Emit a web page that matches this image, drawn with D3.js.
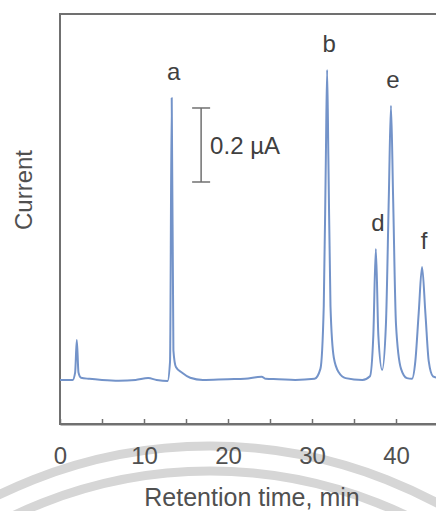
<!DOCTYPE html>
<html>
<head>
<meta charset="utf-8">
<script src="https://cdn.jsdelivr.net/npm/d3@7"></script>
<style>
  html, body { margin: 0; padding: 0; background: #fff; }
  svg { display: block; font-family: "Liberation Sans", Arial, Helvetica, sans-serif; }
</style>
</head>
<body>
<svg id="chart" width="436" height="511"></svg>
<script>
// ---- data (retention time in min, current in µA above baseline) ----
const traceTime = [0, 1.5, 1.8, 2.0, 2.2, 2.5, 3.5, 5, 7, 9, 10.5, 11.5, 12.8, 13.1, 13.3, 13.5, 13.8, 14.5, 15.5, 17,
  20, 22, 24, 24.5, 26, 28, 30.3, 31.0, 31.4, 31.65, 31.8, 31.95, 32.2, 32.6, 33.2, 34, 36,
  36.9, 37.3, 37.6, 37.9, 38.35,
  38.8, 39.15, 39.4, 39.65, 40.0, 40.6, 41.3, 41.9, 42.3, 42.7, 43.1, 43.5, 43.9, 44.4, 45.5];
const traceCurrent = [0, 0, 0.02, 0.108, 0.02, 0.006, 0.003, 0, -0.002, 0, 0.005, 0, -0.003, 0.05, 0.762, 0.08, 0.035, 0.02, 0.006, 0,
  0.002, 0.003, 0.009, 0.003, 0.002, 0, 0.003, 0.03, 0.2, 0.6, 0.838, 0.6, 0.2, 0.06, 0.02, 0.005, 0,
  0.01, 0.12, 0.354, 0.12, 0.027,
  0.15, 0.5, 0.741, 0.5, 0.15, 0.03, 0.005, 0.003, 0.05, 0.18, 0.305, 0.18, 0.05, 0.01, 0.003];

const peakLabels = ["a", "b", "d", "e", "f"];
const peakTimes = [13.3, 31.8, 37.6, 39.4, 43.1];
const peakHeights = [0.762, 0.838, 0.354, 0.741, 0.305];

const xTicks = [0, 5, 10, 15, 20, 25, 30, 35, 40, 45];
const xTickLabels = ["0", "", "10", "", "20", "", "30", "", "40", ""];
const scaleBarTime = 16.8;
const scaleBarRange = [0.535, 0.735];   // 0.2 µA
const scaleBarLabel = "0.2 µA";
const xTitle = "Retention time, min";
const yTitle = "Current";

// ---- layout ----
const svg = d3.select("#chart");
const mLeft = 60, mTop = 14, mBottom = 424, mRight = 480;
const x = d3.scaleLinear().domain([0, 50]).range([mLeft, mRight]);
const y = d3.scaleLinear().domain([-0.119, 0.989]).range([mBottom, mTop]);

// watermark arcs
const arcG = svg.append("g").attr("fill", "none").attr("stroke", "#d6d6d6").attr("stroke-width", 9);
[480, 455].forEach(r => arcG.append("circle").attr("cx", 210).attr("cy", 926).attr("r", r));

// frame
svg.append("rect")
  .attr("x", mLeft).attr("y", mTop)
  .attr("width", mRight - mLeft).attr("height", mBottom - mTop)
  .attr("fill", "none").attr("stroke", "#707070").attr("stroke-width", 2);

// x axis
const xAxis = d3.axisBottom(x)
  .tickValues(xTicks)
  .tickSizeInner(-5).tickSizeOuter(0)
  .tickPadding(23)
  .tickFormat((d, i) => xTickLabels[i]);
const gx = svg.append("g").attr("transform", `translate(0,${mBottom})`).call(xAxis);
gx.select(".domain").attr("stroke", "#707070").attr("stroke-width", 2);
gx.selectAll(".tick line").attr("stroke", "#707070").attr("stroke-width", 1.5);
gx.selectAll(".tick text").attr("fill", "#505050").attr("font-size", 24)
  .attr("font-family", "'Liberation Sans', Arial, sans-serif");

// axis titles
svg.append("text").attr("x", 252).attr("y", 506).attr("text-anchor", "middle")
  .attr("font-size", 25).attr("fill", "#505050").text(xTitle);
svg.append("text").attr("transform", "translate(32,190) rotate(-90)").attr("text-anchor", "middle")
  .attr("font-size", 24).attr("fill", "#505050").text(yTitle);

// trace
const pts = traceTime.map((t, i) => [t, traceCurrent[i]]);
const line = d3.line().x(d => x(d[0])).y(d => y(d[1])).curve(d3.curveMonotoneX);
svg.append("path").datum(pts)
  .attr("d", line).attr("fill", "none")
  .attr("stroke", "#7393c9").attr("stroke-width", 2).attr("stroke-linejoin", "round");

// peak labels
svg.append("g").selectAll("text").data(peakLabels).join("text")
  .attr("x", (d, i) => x(peakTimes[i]) + 2)
  .attr("y", (d, i) => y(peakHeights[i]) - 18)
  .attr("text-anchor", "middle").attr("font-size", 24).attr("fill", "#404040")
  .text(d => d);

// scale bar
const sb = svg.append("g").attr("stroke", "#707070").attr("stroke-width", 1.5);
const sx = x(scaleBarTime);
sb.append("line").attr("x1", sx).attr("x2", sx).attr("y1", y(scaleBarRange[0])).attr("y2", y(scaleBarRange[1]));
scaleBarRange.forEach(v => sb.append("line").attr("x1", sx - 9).attr("x2", sx + 9).attr("y1", y(v)).attr("y2", y(v)));
svg.append("text").attr("x", sx + 9).attr("y", (y(scaleBarRange[0]) + y(scaleBarRange[1])) / 2 + 9)
  .attr("font-size", 24).attr("fill", "#404040").text(scaleBarLabel);
</script>
</body>
</html>
